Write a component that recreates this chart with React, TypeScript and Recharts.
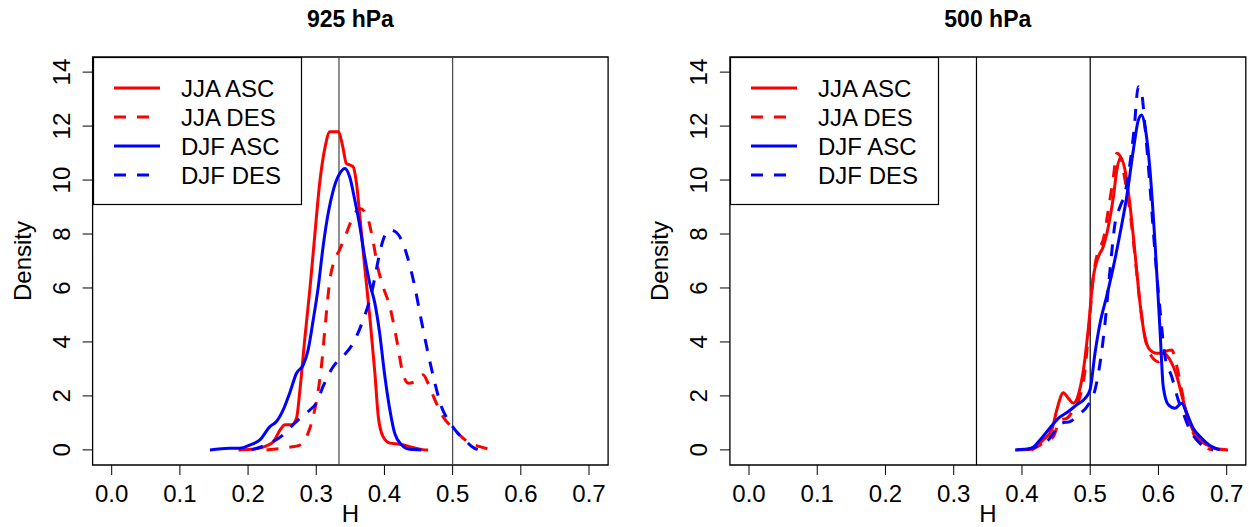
import React from 'react';
import { LineChart, Line, XAxis, YAxis, ReferenceLine, ReferenceArea, Legend } from 'recharts';

type Pt = [number, number];

// ---- 925 hPa panel (H, density) ----
const jjaAsc925: Pt[] = [[0.186,0],[0.205,0.02],[0.227,0.15],[0.237,0.3],[0.247,0.74],[0.254,0.93],[0.264,0.93],[0.271,1.17],[0.276,2.2],[0.283,4.07],[0.291,6.05],[0.298,8.0],[0.305,9.88],[0.313,11.23],[0.320,11.79],[0.332,11.79],[0.339,11.23],[0.344,10.62],[0.349,10.56],[0.354,10.5],[0.359,9.88],[0.364,8.64],[0.371,6.79],[0.3785,4.94],[0.386,2.84],[0.391,1.23],[0.398,0.49],[0.408,0.25],[0.4225,0.21],[0.437,0.12],[0.456,0.01],[0.464,0]];
const jjaDes925: Pt[] = [[0.227,0],[0.261,0.1],[0.276,0.18],[0.288,0.62],[0.2955,1.23],[0.303,2.22],[0.308,3.2],[0.313,4.57],[0.320,6.3],[0.327,7.04],[0.334,7.4],[0.344,8.02],[0.3565,8.77],[0.364,8.95],[0.374,8.7],[0.383,7.78],[0.390,6.79],[0.398,6.05],[0.408,5.3],[0.418,4.07],[0.427,2.84],[0.435,2.47],[0.4445,2.53],[0.4566,2.78],[0.464,2.47],[0.474,1.85],[0.486,1.23],[0.5006,0.8],[0.510,0.56],[0.525,0.25],[0.540,0.12],[0.554,0.02]];
const djfAsc925: Pt[] = [[0.144,0],[0.173,0.06],[0.188,0.06],[0.2026,0.18],[0.2173,0.37],[0.232,0.86],[0.2417,1.05],[0.2515,1.48],[0.261,2.1],[0.271,2.84],[0.281,3.15],[0.288,3.7],[0.2955,4.81],[0.303,6.05],[0.310,7.53],[0.3175,8.77],[0.325,9.63],[0.3346,10.25],[0.342,10.43],[0.349,10.12],[0.3565,9.26],[0.364,8.27],[0.371,7.16],[0.3785,6.17],[0.386,5.43],[0.393,4.32],[0.400,2.84],[0.408,1.48],[0.415,0.62],[0.425,0.19],[0.437,0.02],[0.454,0]];
const djfDes925: Pt[] = [[0.205,0],[0.232,0.25],[0.2515,0.56],[0.266,0.93],[0.276,1.17],[0.2906,1.48],[0.300,1.73],[0.310,2.35],[0.325,3.09],[0.339,3.46],[0.354,3.95],[0.3687,4.81],[0.381,5.8],[0.391,7.04],[0.398,7.78],[0.408,8.15],[0.415,8.1],[0.425,7.78],[0.435,7.04],[0.4445,6.05],[0.454,4.81],[0.464,3.58],[0.474,2.47],[0.4836,1.6],[0.4933,1.11],[0.5055,0.68],[0.520,0.31],[0.532,0.06],[0.542,0]];

// ---- 500 hPa panel ----
const jjaAsc500: Pt[] = [[0.392,0],[0.414,0.02],[0.431,0.37],[0.4436,0.74],[0.451,1.48],[0.4606,2.12],[0.468,1.91],[0.4753,1.73],[0.4826,2.04],[0.490,2.96],[0.497,4.44],[0.5046,6.42],[0.512,7.16],[0.519,7.53],[0.5265,8.27],[0.534,9.38],[0.539,10.37],[0.5447,10.84],[0.551,10.37],[0.558,9.14],[0.5657,7.28],[0.573,5.43],[0.580,4.2],[0.5876,3.7],[0.597,3.58],[0.607,3.58],[0.617,3.33],[0.627,2.72],[0.636,1.85],[0.646,0.99],[0.656,0.49],[0.671,0.19],[0.685,0.04],[0.702,0]];
const jjaDes500: Pt[] = [[0.414,0],[0.4386,0.37],[0.446,0.49],[0.4558,1.11],[0.4655,1.17],[0.4753,1.48],[0.485,1.98],[0.4924,2.96],[0.497,4.2],[0.5046,6.42],[0.512,7.41],[0.519,7.78],[0.5265,8.89],[0.534,10.12],[0.539,10.99],[0.5437,10.9],[0.551,10.0],[0.558,8.89],[0.5657,7.16],[0.573,5.43],[0.580,4.2],[0.590,3.46],[0.600,3.27],[0.6096,3.64],[0.6194,3.7],[0.627,3.09],[0.634,2.22],[0.641,1.36],[0.651,0.62],[0.663,0.19],[0.671,0.06],[0.68,0]];
const djfAsc500: Pt[] = [[0.390,0],[0.414,0.06],[0.4264,0.37],[0.4386,0.74],[0.4533,1.17],[0.468,1.42],[0.480,1.67],[0.4924,1.91],[0.4997,2.22],[0.507,3.58],[0.5144,4.69],[0.524,5.68],[0.534,6.79],[0.5437,8.02],[0.5535,9.38],[0.5632,11.11],[0.5705,12.22],[0.5754,12.41],[0.5803,11.98],[0.5876,10.37],[0.595,7.65],[0.6023,4.44],[0.607,2.35],[0.6145,1.67],[0.6243,1.54],[0.634,1.73],[0.6414,1.36],[0.651,0.8],[0.6634,0.43],[0.678,0.12],[0.69,0]];
const djfDes500: Pt[] = [[0.407,0],[0.4264,0.19],[0.4386,0.37],[0.451,0.8],[0.4582,0.99],[0.4704,1.05],[0.4826,1.3],[0.4972,1.67],[0.507,2.22],[0.5144,3.21],[0.5217,4.69],[0.529,6.67],[0.5364,8.4],[0.5437,9.01],[0.551,9.51],[0.5583,10.62],[0.5642,11.85],[0.5705,13.46],[0.5754,13.21],[0.5803,11.98],[0.5876,9.75],[0.595,7.28],[0.6023,5.19],[0.6096,3.46],[0.6194,2.72],[0.629,1.85],[0.6364,1.36],[0.646,0.74],[0.656,0.37],[0.6707,0.06],[0.68,0]];

const seriesNames = ['JJA ASC', 'JJA DES', 'DJF ASC', 'DJF DES'];
const seriesColors = ['#FF0000', '#FF0000', '#0000FF', '#0000FF'];
const seriesDashed = [false, true, false, true];

const xTicks = [0, 0.1, 0.2, 0.3, 0.4, 0.5, 0.6, 0.7];
const yTicks = [0, 2, 4, 6, 8, 10, 12, 14];
const vLines = [1 / 3, 0.5];
const xDomain: [number, number] = [-0.028, 0.728];
const yDomain: [number, number] = [-0.56, 14.56];

const panelTitles = ['925 hPa', '500 hPa'];
const xLabel = 'H';
const yLabel = 'Density';

const FONT = '"Liberation Sans", Arial, Helvetica, sans-serif';
const DASH = '12 11';

const toRows = (pts: Pt[]) => pts.map(([h, d]) => ({ h, d }));

function YTick(props: any) {
  const { x, y, payload } = props;
  return (
    <text transform={`translate(${x},${y}) rotate(-90)`} textAnchor="middle" fontSize={24} fontFamily={FONT} fill="#000">
      {payload.value}
    </text>
  );
}

function LegendBox() {
  const rowY = [31, 60, 89, 118];
  return (
    <svg width={210} height={149} style={{ display: 'block' }}>
      <rect x={0.5} y={0.5} width={208} height={147} fill="#fff" stroke="#000" strokeWidth={1.2} />
      {seriesNames.map((n, i) => (
        <g key={n}>
          <line x1={21} x2={67} y1={rowY[i]} y2={rowY[i]} stroke={seriesColors[i]} strokeWidth={3}
            strokeDasharray={seriesDashed[i] ? DASH : undefined} />
          <text x={88} y={rowY[i] + 8.5} fontSize={24} fontFamily={FONT} fill="#000">{n}</text>
        </g>
      ))}
    </svg>
  );
}

function Panel(props: { left: number; width: number; mLeft: number; mRight: number; series: Pt[][]; refColor: string }) {
  const { left, width, mLeft, mRight, series, refColor } = props;
  return (
    <div style={{ position: 'absolute', left, top: 0, width, height: 527 }}>
      <LineChart width={width} height={527} margin={{ top: 57, right: mRight, bottom: 0, left: mLeft }}>
        <XAxis type="number" dataKey="h" domain={xDomain} allowDataOverflow ticks={xTicks} interval={0}
          tickFormatter={(v: number) => v.toFixed(1)} axisLine={false} tickSize={10} tickMargin={10}
          tickLine={{ stroke: '#000', strokeWidth: 1 }} height={62}
          tick={{ fontSize: 24, fill: '#000', fontFamily: FONT }} />
        <YAxis type="number" domain={yDomain} allowDataOverflow ticks={yTicks} interval={0} width={60}
          axisLine={false} tickSize={10} tickMargin={13} tickLine={{ stroke: '#000', strokeWidth: 1 }}
          tick={<YTick />} />
        {vLines.map((v) => (
          <ReferenceLine key={v} x={v} stroke={refColor} strokeWidth={1.2} />
        ))}
        <ReferenceArea x1={xDomain[0]} x2={xDomain[1]} y1={yDomain[0]} y2={yDomain[1]} fill="none" fillOpacity={0}
          stroke="#000" strokeWidth={1.3} ifOverflow="visible" />
        {series.map((pts, i) => (
          <Line key={seriesNames[i]} data={toRows(pts)} dataKey="d" name={seriesNames[i]} type="monotone"
            stroke={seriesColors[i]} strokeWidth={3} strokeDasharray={seriesDashed[i] ? DASH : undefined}
            dot={false} activeDot={false} isAnimationActive={false} />
        ))}
        <Legend layout="vertical" align="center" verticalAlign="middle" content={() => <LegendBox />}
          wrapperStyle={{ left: mLeft + 60, top: 57, width: 210, height: 149 }} />
      </LineChart>
    </div>
  );
}

export default function App() {
  const centers = [350.4, 987.8];
  const densityX = [31, 668.3];
  return (
    <div style={{ position: 'absolute', left: 0, top: 0, width: 1249, height: 527, background: '#fff' }}>
      <Panel left={0} width={620} mLeft={32.6} mRight={11.9} refColor="#444" series={[jjaAsc925, jjaDes925, djfAsc925, djfDes925]} />
      <Panel left={620} width={629} mLeft={49.9} mRight={3.2} refColor="#000" series={[jjaAsc500, jjaDes500, djfAsc500, djfDes500]} />
      <svg width={1249} height={527} style={{ position: 'absolute', left: 0, top: 0, pointerEvents: 'none' }}>
        {panelTitles.map((t, i) => (
          <text key={t} x={centers[i]} y={27} textAnchor="middle" fontSize={23} fontWeight="bold" fontFamily={FONT} fill="#000">{t}</text>
        ))}
        {centers.map((c, i) => (
          <text key={'x' + i} x={c} y={522} textAnchor="middle" fontSize={24} fontFamily={FONT} fill="#000">{xLabel}</text>
        ))}
        {densityX.map((dx, i) => (
          <text key={'y' + i} transform={`translate(${dx},261) rotate(-90)`} textAnchor="middle" fontSize={24} fontFamily={FONT} fill="#000">{yLabel}</text>
        ))}
      </svg>
    </div>
  );
}
